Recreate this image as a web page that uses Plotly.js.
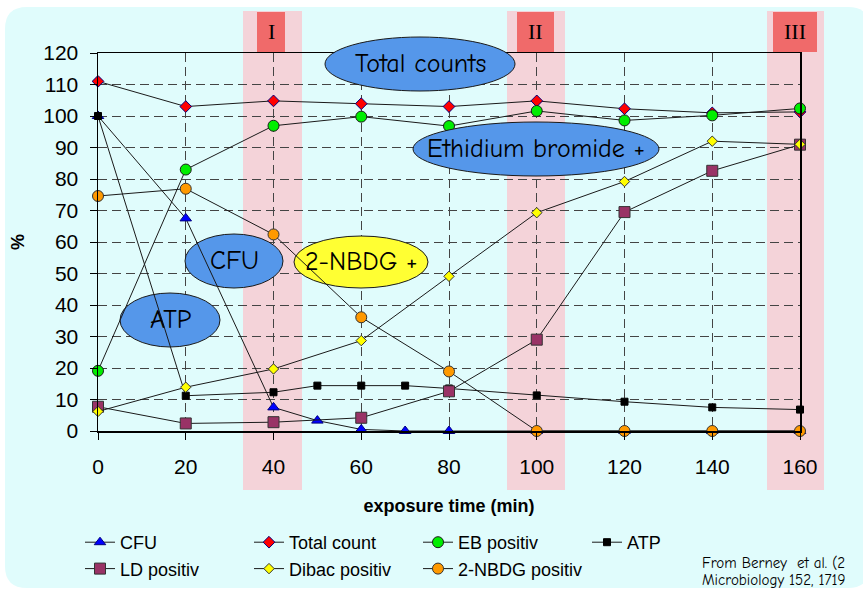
<!DOCTYPE html>
<html>
<head>
<meta charset="utf-8">
<script src="https://cdn.plot.ly/plotly-3.0.1.min.js"></script>
<style>html,body{margin:0;padding:0;background:#fff;}#chart{width:863px;height:590px;}</style>
</head>
<body>
<div id="chart"></div>
<script>
// ---- data ----
const timeFine = [0, 20, 40, 50, 60, 70, 80, 100, 120, 140, 160];
const timeStd = [0, 20, 40, 60, 80, 100, 120, 140, 160];
const cfu = [100, 67.5, 7.5, 3.3, 0.5, 0, 0, 0, 0, 0, 0];
const totalCount = [111, 103, 104.8, 103.9, 103, 104.8, 102.3, 101, 101.3];
const ebPositiv = [19.1, 83, 96.9, 99.8, 96.8, 101.6, 98.6, 100.2, 102.4];
const atp = [100, 11.2, 12.3, 14.4, 14.4, 14.4, 13.5, 11.3, 9.3, 7.5, 6.8];
const ldPositiv = [7.7, 2.4, 2.8, 4.2, 12.6, 29, 69.5, 82.6, 90.9];
const dibacPositiv = [6.2, 13.9, 19.7, 28.7, 49.1, 69.3, 79.2, 92, 91];
const nbdgPositiv = [74.6, 76.9, 62.4, 36.1, 18.9, 0, 0, 0, 0];
const seriesNames = ['CFU', 'Total count', 'EB positiv', 'ATP', 'LD positiv', 'Dibac positiv', '2-NBDG positiv'];
const xTicks = [0, 20, 40, 60, 80, 100, 120, 140, 160];
const yTicks = [0, 10, 20, 30, 40, 50, 60, 70, 80, 90, 100, 110, 120];
const phaseLabels = ['I', 'II', 'III'];
const bubbleLabels = ['Total counts', 'Ethidium bromide +', 'CFU', '2-NBDG +', 'ATP'];
// citation as visible in the reference (it is cut by the right edge there)
const citation = ['From Berney  et al. (2', 'Microbiology 152, 1719'];

// ---- layout geometry (pixels) ----
const W = 863, H = 590;
const L = 98, R = 800, T = 53, B = 431;
const px = p => (p - L) / (R - L);   // pixel -> paper x
const py = p => (B - p) / (B - T);   // pixel -> paper y
const dx = p => (p - L) / (R - L) * 160; // pixel -> data x
const dy = p => (B - p) / (B - T) * 120; // pixel -> data y

const LINE = {color: '#1a1a1a', width: 1};
const FONT = 'Arial, "Liberation Sans", sans-serif';
const COMIC = '"Comic Sans MS", "Comic Neue", "Noto Sans", sans-serif';

function tr(name, x, y, symbol, size, fill, outline) {
  return {
    type: 'scatter', mode: 'lines+markers', name: name, x: x, y: y,
    line: LINE, cliponaxis: false,
    marker: {symbol: symbol, size: size, color: fill, line: {color: outline, width: 1}}
  };
}

const traces = [
  tr(seriesNames[0], timeFine, cfu, 'triangle-up', 10, '#0000ff', '#000080'),
  tr(seriesNames[1], timeStd, totalCount, 'diamond', 9, '#ff0000', '#000080'),
  tr(seriesNames[2], timeStd, ebPositiv, 'circle', 11, '#00ee00', '#1a1a1a'),
  tr(seriesNames[3], timeFine, atp, 'square', 7, '#000000', '#000000'),
  tr(seriesNames[4], timeStd, ldPositiv, 'square', 11, '#993366', '#333333'),
  tr(seriesNames[5], timeStd, dibacPositiv, 'diamond', 8, '#ffff00', '#333333'),
  tr(seriesNames[6], timeStd, nbdgPositiv, 'circle', 11, '#ff9900', '#333333')
];

// rounded background panel
function roundRect(x0, y0, x1, y1, r) {
  const X = v => px(v).toFixed(5), Y = v => py(v).toFixed(5);
  return 'M' + X(x0 + r) + ',' + Y(y0) + ' L' + X(x1 - r) + ',' + Y(y0) +
    ' Q' + X(x1) + ',' + Y(y0) + ' ' + X(x1) + ',' + Y(y0 + r) +
    ' L' + X(x1) + ',' + Y(y1 - r) + ' Q' + X(x1) + ',' + Y(y1) + ' ' + X(x1 - r) + ',' + Y(y1) +
    ' L' + X(x0 + r) + ',' + Y(y1) + ' Q' + X(x0) + ',' + Y(y1) + ' ' + X(x0) + ',' + Y(y1 - r) +
    ' L' + X(x0) + ',' + Y(y0 + r) + ' Q' + X(x0) + ',' + Y(y0) + ' ' + X(x0 + r) + ',' + Y(y0) + ' Z';
}

const shapes = [
  {type: 'path', xref: 'paper', yref: 'paper', layer: 'below', path: roundRect(5, 7, 870, 588, 22),
   fillcolor: '#e0fcfc', line: {width: 0}}
];
// phase bands (pixel extents)
const bands = [[243, 302, 257, 285], [507, 565, 517, 554], [767, 824, 773, 817]];
bands.forEach(b => {
  shapes.push({type: 'rect', xref: 'paper', yref: 'paper', layer: 'below',
    x0: px(b[0]), x1: px(b[1]), y0: py(490), y1: py(11), fillcolor: '#f4d3d9', line: {width: 0}});
  shapes.push({type: 'rect', xref: 'paper', yref: 'paper', layer: 'below',
    x0: px(b[2]), x1: px(b[3]), y0: py(52), y1: py(12), fillcolor: '#f06a6a', line: {width: 0}});
});
// bubbles: [cx, cy, rx, ry, fill, layer-type]
const bubbles = [
  [420, 64, 95, 27, '#5597ea', 'top'],
  [536, 149, 123, 27, '#5597ea', 'top'],
  [234, 261, 49, 27, '#5597ea', 'mid'],
  [361, 262, 67, 26, '#ffff33', 'mid'],
  [170, 320, 50, 27, '#5597ea', 'mid']
];
bubbles.forEach(b => {
  if (b[5] === 'top') {
    shapes.push({type: 'circle', xref: 'paper', yref: 'paper', layer: 'above',
      x0: px(b[0] - b[2]), x1: px(b[0] + b[2]), y0: py(b[1] + b[3]), y1: py(b[1] - b[3]),
      fillcolor: b[4], line: {color: '#1a1a1a', width: 1}});
  } else {
    shapes.push({type: 'circle', xref: 'x', yref: 'y', layer: 'between',
      x0: dx(b[0] - b[2]), x1: dx(b[0] + b[2]), y0: dy(b[1] + b[3]), y1: dy(b[1] - b[3]),
      fillcolor: b[4], line: {color: '#1a1a1a', width: 1}});
  }
});

const annotations = [];
bubbles.forEach((b, i) => {
  annotations.push({xref: 'paper', yref: 'paper', x: px(b[0]), y: py(b[1]), xanchor: 'center', yanchor: 'middle',
    showarrow: false, text: bubbleLabels[i], font: {family: COMIC, size: 26, color: '#000'}});
});
bands.forEach((b, i) => {
  annotations.push({xref: 'paper', yref: 'paper', x: px((b[2] + b[3]) / 2), y: py(31), xanchor: 'center', yanchor: 'middle',
    showarrow: false, text: phaseLabels[i], font: {family: '"Liberation Serif", "Times New Roman", serif', size: 22, color: '#000'}});
});
annotations.push({xref: 'paper', yref: 'paper', x: px(700), y: py(563), xanchor: 'left', yanchor: 'middle',
  showarrow: false, text: citation[0], font: {family: COMIC, size: 15, color: '#000'}});
annotations.push({xref: 'paper', yref: 'paper', x: px(700), y: py(580), xanchor: 'left', yanchor: 'middle',
  showarrow: false, text: citation[1], font: {family: COMIC, size: 15, color: '#000'}});

const axisCommon = {
  showline: true, linecolor: '#000', linewidth: 1.5, mirror: true,
  showgrid: true, gridcolor: '#444', gridwidth: 1, griddash: '9px,5px',
  ticks: 'outside', ticklen: 7, tickcolor: '#000', tickwidth: 1,
  zeroline: false, tickfont: {family: FONT, size: 21, color: '#000'}
};

const layout = {
  width: W, height: H,
  margin: {l: L, r: W - R, t: T, b: H - B, pad: 0},
  paper_bgcolor: '#ffffff', plot_bgcolor: 'rgba(0,0,0,0)',
  xaxis: Object.assign({}, axisCommon, {
    range: [0, 160], tickmode: 'array', tickvals: xTicks, ticktext: xTicks.map(String),
    ticklabelstandoff: 9,
    title: {text: '<b>exposure time (min)</b>', font: {family: FONT, size: 18, color: '#000'}, standoff: 22}
  }),
  yaxis: Object.assign({}, axisCommon, {
    range: [0, 120], tickmode: 'array', tickvals: yTicks, ticktext: yTicks.map(String),
    ticklabelstandoff: 7,
    title: {text: '<b>%</b>', font: {family: FONT, size: 18, color: '#000'}, standoff: 14}
  }),
  showlegend: true,
  legend: {orientation: 'h', xref: 'container', x: 80 / W, xanchor: 'left', yref: 'container', y: 1 - 524 / H, yanchor: 'top',
    bgcolor: 'rgba(0,0,0,0)', font: {family: FONT, size: 18, color: '#000'},
    entrywidth: 124, entrywidthmode: 'pixels', tracegroupgap: 0, traceorder: 'normal'},
  shapes: shapes,
  annotations: annotations
};

Plotly.newPlot('chart', traces, layout, {displayModeBar: false, staticPlot: true});
</script>
</body>
</html>
